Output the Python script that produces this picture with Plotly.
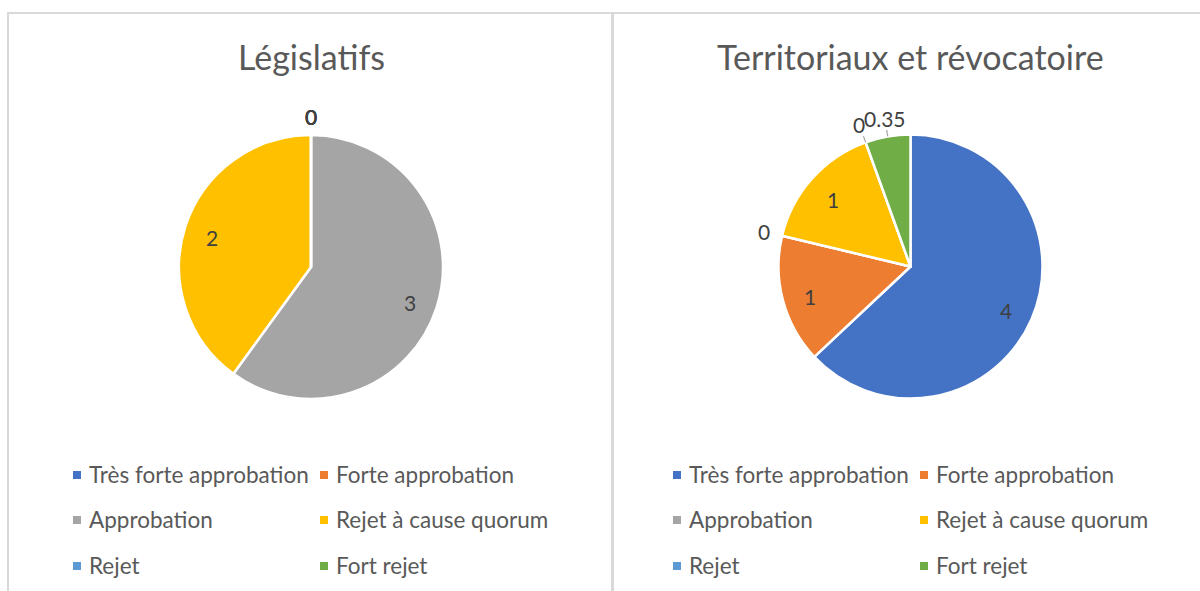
import math
import plotly.graph_objects as go

# ---------------- data ----------------
categories = ["Très forte approbation", "Forte approbation", "Approbation",
              "Rejet à cause quorum", "Rejet", "Fort rejet"]
legislatifs = [0, 0, 3, 2, 0, 0]
territoriaux = [4, 1, 0, 1, 0, 0.35]
titles = ["Législatifs", "Territoriaux et révocatoire"]
series = [legislatifs, territoriaux]

# ---------------- style ----------------
colors = ["#4472C4", "#ED7D31", "#A5A5A5", "#FFC000", "#5B9BD5", "#70AD47"]
W, H = 1200, 591
FONT = "Lato"
centers = [(311, 267), (910.5, 266.5)]
R = 132
leader_cats = [[], ["Rejet", "Fort rejet"]]
legend_dx = [0, 600]
col_marker_x = [77, 324]
col_text_x = [87, 334]
row_y = [475, 520, 566]


def px(x):
    return x / W


def py(y):
    return 1 - y / H


fig = go.Figure()
annotations = []
shapes = []

for k, (vals, title) in enumerate(zip(series, titles)):
    cx, cy = centers[k]
    fig.add_trace(go.Pie(
        labels=categories, values=vals, sort=False, direction="clockwise",
        rotation=0, textinfo="none", showlegend=False,
        marker=dict(colors=colors, line=dict(color="white", width=2.5)),
        domain=dict(x=[px(cx - R), px(cx + R)], y=[py(cy + R), py(cy - R)]),
        hoverinfo="label+value",
    ))
    total = sum(vals)
    cum = 0.0
    for cat, v in zip(categories, vals):
        mid = (cum + v / 2) / total * 2 * math.pi
        cum += v
        frac = v / total
        inside = frac >= 0.1
        r = 0.79 * R if inside else 1.14 * R
        lx = cx + r * math.sin(mid)
        ly = cy - r * math.cos(mid) + (3 if inside else 0)
        annotations.append(dict(
            x=px(lx), y=py(ly), xref="paper", yref="paper",
            text=f"{v:g}", showarrow=False, xanchor="center", yanchor="middle",
            font=dict(family=FONT, size=21, color="#404040")))
        if cat in leader_cats[k]:
            x0 = cx + 1.0 * R * math.sin(mid)
            y0 = cy - 1.0 * R * math.cos(mid)
            x1 = cx + 1.05 * R * math.sin(mid)
            y1 = cy - 1.05 * R * math.cos(mid)
            shapes.append(dict(type="line", xref="paper", yref="paper",
                               x0=px(x0), y0=py(y0), x1=px(x1), y1=py(y1),
                               line=dict(color="#A6A6A6", width=1.2)))
    # title
    annotations.append(dict(
        x=px(cx), y=py(57), xref="paper", yref="paper", text=title,
        showarrow=False, xanchor="center", yanchor="middle",
        font=dict(family=FONT, size=34, color="#595959")))
    # legend
    for i, (cat, col) in enumerate(zip(categories, colors)):
        row, c = divmod(i, 2)
        mx = col_marker_x[c] + legend_dx[k]
        my = row_y[row]
        shapes.append(dict(type="rect", xref="paper", yref="paper",
                           x0=px(mx - 4), x1=px(mx + 4), y0=py(my + 4), y1=py(my - 4),
                           fillcolor=col, line=dict(width=0)))
        annotations.append(dict(
            x=px(col_text_x[c] + legend_dx[k]), y=py(my - 1), xref="paper", yref="paper",
            text=cat, showarrow=False, xanchor="left", yanchor="middle",
            font=dict(family=FONT, size=22.5, color="#595959")))

# panel borders
border = "#D9D9D9"
shapes += [
    dict(type="line", xref="paper", yref="paper", x0=px(7), x1=px(1200), y0=py(13), y1=py(13),
         line=dict(color=border, width=2)),
    dict(type="line", xref="paper", yref="paper", x0=px(8), x1=px(8), y0=py(12), y1=py(600),
         line=dict(color=border, width=2)),
    dict(type="line", xref="paper", yref="paper", x0=px(612.5), x1=px(612.5), y0=py(12), y1=py(600),
         line=dict(color=border, width=3)),
]

fig.update_layout(
    width=W, height=H, margin=dict(l=0, r=0, t=0, b=0),
    paper_bgcolor="white", plot_bgcolor="white",
    annotations=annotations, shapes=shapes,
    font=dict(family=FONT),
)

fig.write_html("out.html", config={"displayModeBar": False},
               post_script="document.body.style.margin='0';document.body.style.overflow='hidden';")
